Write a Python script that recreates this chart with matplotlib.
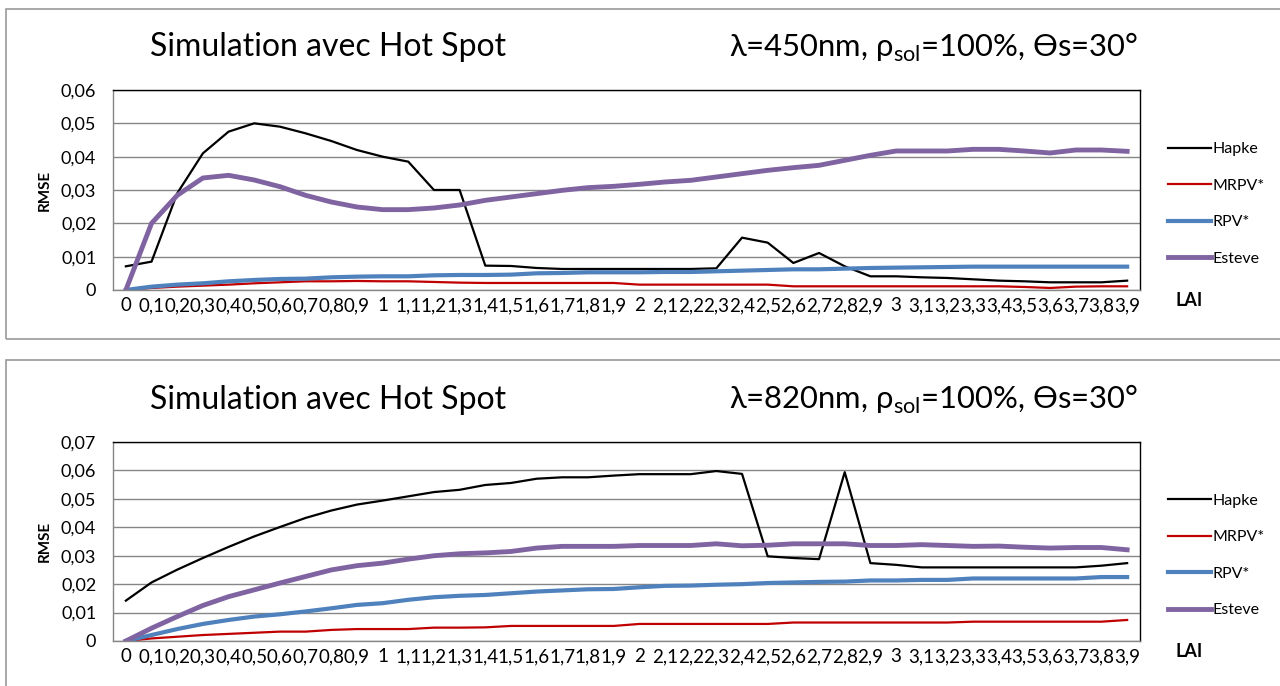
import numpy as np
import matplotlib
matplotlib.use('Agg')
import matplotlib.pyplot as plt
from matplotlib.patches import Rectangle

plt.rcParams['font.family'] = ['Lato', 'DejaVu Sans']
plt.rcParams['mathtext.fontset'] = 'custom'
plt.rcParams['mathtext.rm'] = 'Lato'

lai_labels = ['0', '0,1', '0,2', '0,3', '0,4', '0,5', '0,6', '0,7', '0,8', '0,9',
              '1', '1,1', '1,2', '1,3', '1,4', '1,5', '1,6', '1,7', '1,8', '1,9',
              '2', '2,1', '2,2', '2,3', '2,4', '2,5', '2,6', '2,7', '2,8', '2,9',
              '3', '3,1', '3,2', '3,3', '3,4', '3,5', '3,6', '3,7', '3,8', '3,9']
series_names = ['Hapke', 'MRPV*', 'RPV*', 'Esteve']

# lambda = 450 nm
hapke_450 = [0.0071, 0.0085, 0.029, 0.041, 0.0475, 0.050, 0.049, 0.047, 0.0447, 0.042,
             0.040, 0.0385, 0.030, 0.030, 0.0073, 0.0072, 0.0066, 0.0063, 0.0063, 0.0063,
             0.0063, 0.0063, 0.0063, 0.0065, 0.0157, 0.0142, 0.0081, 0.0111, 0.0071, 0.0041,
             0.0041, 0.0038, 0.0036, 0.0032, 0.0028, 0.0026, 0.0023, 0.0023, 0.0023, 0.0028]
mrpv_450 = [0, 0.0006, 0.001, 0.0013, 0.0016, 0.002, 0.0023, 0.0026, 0.0026, 0.0027,
            0.0026, 0.0026, 0.0024, 0.0022, 0.0021, 0.0021, 0.0021, 0.0021, 0.0021, 0.0021,
            0.0016, 0.0016, 0.0016, 0.0016, 0.0016, 0.0016, 0.0011, 0.0011, 0.0011, 0.0011,
            0.0011, 0.0011, 0.0011, 0.0011, 0.0011, 0.0009, 0.0006, 0.001, 0.0011, 0.0011]
rpv_450 = [0, 0.001, 0.0016, 0.002, 0.0026, 0.003, 0.0033, 0.0034, 0.0038, 0.004,
           0.0041, 0.0041, 0.0044, 0.0045, 0.0045, 0.0046, 0.005, 0.0051, 0.0053, 0.0053,
           0.0053, 0.0054, 0.0054, 0.0056, 0.0058, 0.006, 0.0062, 0.0062, 0.0064, 0.0066,
           0.0067, 0.0068, 0.0069, 0.007, 0.007, 0.007, 0.007, 0.007, 0.007, 0.007]
esteve_450 = [0, 0.020, 0.0284, 0.0336, 0.0344, 0.033, 0.031, 0.0284, 0.0264, 0.0249,
              0.0241, 0.0241, 0.0246, 0.0255, 0.0269, 0.0279, 0.0289, 0.0299, 0.0307, 0.0311,
              0.0317, 0.0324, 0.0329, 0.0339, 0.0349, 0.0359, 0.0367, 0.0374, 0.0389, 0.0404,
              0.0417, 0.0417, 0.0417, 0.0422, 0.0422, 0.0417, 0.0411, 0.042, 0.042, 0.0416]

# lambda = 820 nm
hapke_820 = [0.0142, 0.0206, 0.0251, 0.0292, 0.0331, 0.0368, 0.0401, 0.0433, 0.0459, 0.048,
             0.0494, 0.0509, 0.0524, 0.0532, 0.0549, 0.0556, 0.0571, 0.0576, 0.0576, 0.0582,
             0.0587, 0.0587, 0.0587, 0.0598, 0.0588, 0.0298, 0.0292, 0.0288, 0.0594, 0.0274,
             0.0268, 0.0259, 0.0259, 0.0259, 0.0259, 0.0259, 0.0259, 0.0259, 0.0265, 0.0274]
mrpv_820 = [0, 0.0009, 0.0015, 0.0021, 0.0025, 0.0029, 0.0033, 0.0033, 0.0039, 0.0042,
            0.0042, 0.0042, 0.0047, 0.0047, 0.0048, 0.0053, 0.0053, 0.0053, 0.0053, 0.0053,
            0.006, 0.006, 0.006, 0.006, 0.006, 0.006, 0.0065, 0.0065, 0.0065, 0.0065,
            0.0065, 0.0065, 0.0065, 0.0068, 0.0068, 0.0068, 0.0068, 0.0068, 0.0068, 0.0074]
rpv_820 = [0, 0.0021, 0.0042, 0.006, 0.0074, 0.0086, 0.0094, 0.0104, 0.0115, 0.0127,
           0.0133, 0.0145, 0.0154, 0.0159, 0.0162, 0.0168, 0.0174, 0.0178, 0.0182, 0.0183,
           0.0189, 0.0194, 0.0195, 0.0198, 0.02, 0.0204, 0.0206, 0.0208, 0.0209, 0.0213,
           0.0213, 0.0215, 0.0215, 0.022, 0.022, 0.022, 0.022, 0.022, 0.0225, 0.0225]
esteve_820 = [0, 0.0045, 0.0086, 0.0125, 0.0156, 0.018, 0.0204, 0.0227, 0.025, 0.0265,
              0.0274, 0.0288, 0.03, 0.0307, 0.031, 0.0315, 0.0327, 0.0333, 0.0333, 0.0333,
              0.0336, 0.0336, 0.0336, 0.0342, 0.0335, 0.0337, 0.0342, 0.0342, 0.0342, 0.0336,
              0.0336, 0.0339, 0.0336, 0.0333, 0.0334, 0.033, 0.0327, 0.0329, 0.0329, 0.0321]

colors = ['#000000', '#C00000', '#4F81BD', '#8064A2']
widths = [1.6, 1.6, 3.0, 3.5]
grid_color = '#868686'


def draw_panel(fig, rect, series, ymax, wavelength, frame_rect):
    # grey box around each chart
    fig.patches.append(Rectangle(frame_rect[:2], frame_rect[2], frame_rect[3], transform=fig.transFigure,
                                 fill=False, edgecolor='#9a9a9a', linewidth=1.2, zorder=0))

    ax = fig.add_axes(rect)
    x = np.arange(len(lai_labels))
    for vals, name, c, w in zip(series, series_names, colors, widths):
        ax.plot(x, vals, color=c, linewidth=w, label=name, solid_joinstyle='round')

    ax.set_xlim(-0.5, len(lai_labels) - 0.5)
    ax.set_ylim(0, ymax)
    yt = np.arange(0, ymax + 1e-9, 0.01)
    ax.set_yticks(yt)
    ax.set_yticklabels(['0'] + [f'{v:.2f}'.replace('.', ',') for v in yt[1:]], fontsize=13)
    ax.set_xticks(x)
    ax.set_xticklabels(lai_labels, fontsize=13.5)
    ax.tick_params(axis='x', length=0, pad=5)
    ax.tick_params(axis='y', length=0, pad=12)
    ax.yaxis.grid(True, color=grid_color, linewidth=1.0)
    ax.set_axisbelow(True)

    for s in ['top', 'right']:
        ax.spines[s].set_color('#000000')
        ax.spines[s].set_linewidth(1.0)
    for s in ['left', 'bottom']:
        ax.spines[s].set_color(grid_color)
        ax.spines[s].set_linewidth(1.0)

    ax.text(1.035, -0.055, 'LAI', transform=ax.transAxes, fontsize=13, fontweight='bold',
            va='center', ha='left')
    ax.text(-0.066, 0.5, 'RMSE', transform=ax.transAxes, fontsize=11, fontweight='bold',
            rotation=90, va='center', ha='center')

    ax.legend(loc='center left', bbox_to_anchor=(1.027, 0.43), frameon=False, fontsize=11.5,
              handlelength=2.7, handletextpad=0.1, labelspacing=1.4, borderpad=0, borderaxespad=0)

    # titles
    top = rect[1] + rect[3]
    fig.text(0.256, top + 0.062, 'Simulation avec Hot Spot', fontsize=23, ha='center', va='center')
    fig.text(0.729, top + 0.062, 'λ=' + wavelength + r'nm, ρ$_{\mathrm{sol}}$=100%, ϴs=30°',
             fontsize=22.3, ha='center', va='center')
    return ax


fig = plt.figure(figsize=(12.8, 6.86), dpi=100)

draw_panel(fig, [0.0883, 0.5773, 0.8023, 0.2915],
           [hapke_450, mrpv_450, rpv_450, esteve_450], 0.06, '450',
           [0.0047, 0.5058, 1.0, 0.4811])
draw_panel(fig, [0.0883, 0.0656, 0.8023, 0.2900],
           [hapke_820, mrpv_820, rpv_820, esteve_820], 0.07, '820',
           [0.0047, -0.01, 1.0, 0.4852])

fig.savefig('out.png', dpi=100)
